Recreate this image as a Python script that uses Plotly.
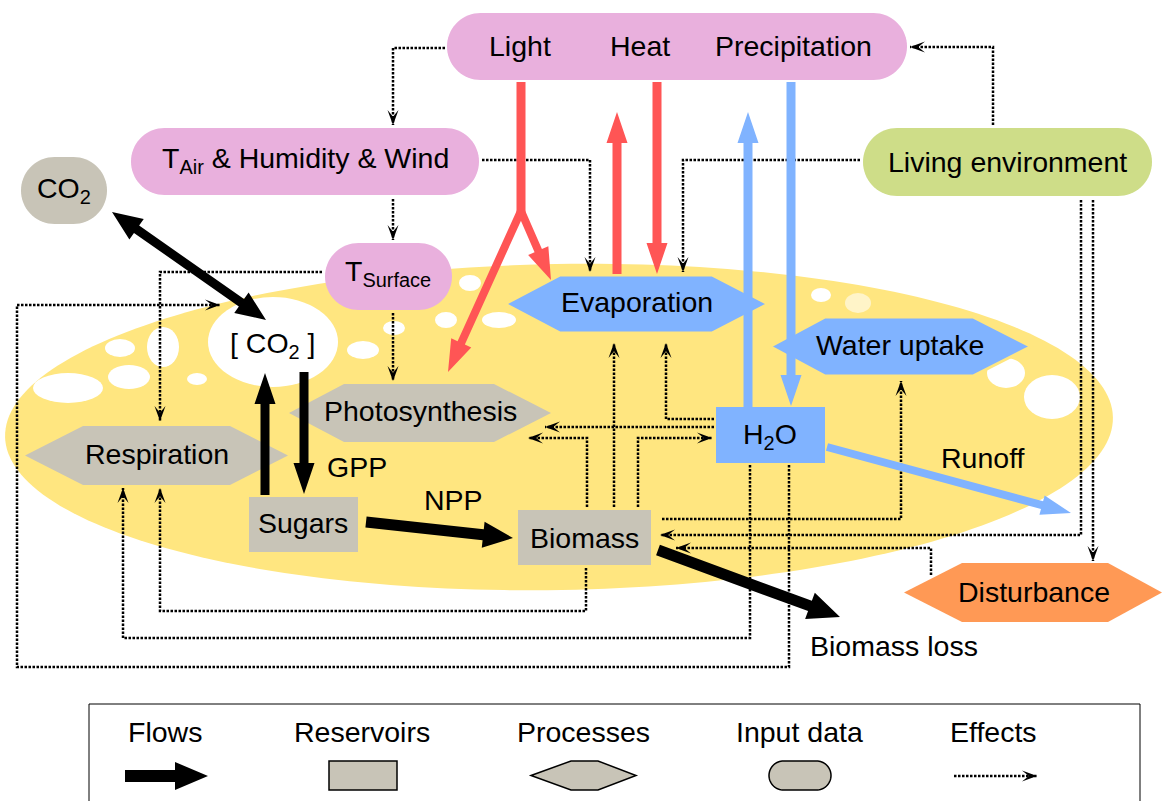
import numpy as np
import plotly.graph_objects as go

# ---------------- data: labels ----------------
top_inputs = ["Light", "Heat", "Precipitation"]
input_labels = ["T<sub>Air</sub> & Humidity & Wind", "CO<sub>2</sub>", "T<sub>Surface</sub>", "Living environment"]
process_labels = ["Evaporation", "Water uptake", "Photosynthesis", "Respiration", "Disturbance"]
reservoir_labels = ["[ CO<sub>2</sub> ]", "Sugars", "Biomass", "H<sub>2</sub>O"]
flow_labels = ["GPP", "NPP", "Runoff", "Biomass loss"]
legend_labels = ["Flows", "Reservoirs", "Processes", "Input data", "Effects"]

# ---------------- geometry / styles (pixels, y downwards) ----------------
W, H = 1163, 801
FONT = "Liberation Sans, Arial, Helvetica, sans-serif"
FS = 28.5
PINK, GRAY, GREEN = "#E9B0DD", "#C8C4B7", "#CEDD88"
BLUE, RED, ORANGE, YELLOW = "#80B3FF", "#FF5555", "#FF9955", "#FFE680"

top_box = (447, 13, 907, 80)
top_text_x = [520, 640, 793]
input_boxes = [(131, 128, 479, 195), (21, 157, 107, 224), (325, 243, 452, 310), (863, 128, 1152, 196)]
input_colors = [PINK, GRAY, PINK, GREEN]
input_text_pos = [(305, 160), (64, 190), (388, 273), (1007, 162)]

hexes = [(505, 560, 712, 768, 275, 333), (770, 825, 973, 1031, 317, 376),
         (289, 344, 494, 551, 384, 442), (25, 83, 230, 288, 426, 485),
         (904, 962, 1108, 1162, 563, 622)]
hex_colors = [BLUE, BLUE, GRAY, GRAY, ORANGE]
hex_text_pos = [(637, 302), (900, 345), (420, 411), (157, 454), (1034, 592)]

rects = [None, (249, 497, 358, 552), (518, 510, 651, 565), (716, 407, 825, 463)]
rect_colors = [None, GRAY, GRAY, BLUE]
res_text_pos = [(273, 345), (303, 523), (584, 538), (770, 436)]

flow_text_pos = [(357, 467), (453, 500), (983, 458), (894, 646)]
legend_text_x = [165, 362, 583, 799, 993]

ellipse = (559, 427, 554, 163, 1.0)   # cx, cy, rx, ry, tilt (deg)
holes = [(273, 342, 65, 45, "white"), (120, 348, 15, 9, "white"), (163, 347, 16, 20, "white"),
         (68, 388, 35, 15, "white"), (129, 377, 21, 12, "white"), (197, 379, 10, 6, "white"),
         (470, 283, 11, 8, "white"), (446, 320, 11, 8, "white"), (499, 320, 17, 8, "white"),
         (394, 328, 11, 7, "white"), (363, 350, 16, 9, "white"), (821, 295, 10, 7, "white"),
         (858, 303, 13, 10, "#FFF4C8"), (1006, 373, 19, 15, "white"), (1052, 397, 28, 22, "white")]

dotted_paths = [
    [(445, 48), (393, 48), (393, 125)],
    [(393, 199), (393, 240)],
    [(482, 160), (590, 160), (590, 272)],
    [(860, 160), (683, 160), (683, 272)],
    [(993, 125), (993, 47), (910, 47)],
    [(1081, 200), (1081, 535), (660, 535)],
    [(1093, 200), (1093, 561)],
    [(931, 575), (931, 548), (676, 548)],
    [(662, 519), (901, 519), (901, 381)],
    [(750, 465), (750, 638), (123, 638), (123, 488)],
    [(789, 465), (789, 667), (17, 667), (17, 305), (220, 305)],
    [(322, 272), (160, 272), (160, 421)],
    [(393, 313), (393, 381)],
    [(586, 568), (586, 611), (160, 611), (160, 488)],
    [(587, 507), (587, 438), (528, 438)],
    [(614, 507), (614, 343)],
    [(638, 507), (638, 438), (712, 438)],
    [(714, 427), (545, 427)],
    [(714, 419), (666, 419), (666, 343)],
]

# (start, end, shaft width, head length, head width, color, double)
thick_arrows = [
    ((521, 82), (521, 215), 9, 0, 0, RED, False),
    ((521, 211), (551, 280), 8, 32, 22, RED, False),
    ((521, 211), (448, 372), 8, 32, 22, RED, False),
    ((617, 274), (617, 112), 9, 31, 21, RED, False),
    ((657, 82), (657, 274), 9, 31, 21, RED, False),
    ((791, 82), (791, 406), 9, 31, 21, BLUE, False),
    ((748, 407), (748, 112), 9, 31, 21, BLUE, False),
    ((827, 447), (1071, 513), 8, 30, 20, BLUE, False),
    ((112, 212), (266, 320), 9, 30, 25, "black", True),
    ((304, 372), (304, 494), 9, 31, 21, "black", False),
    ((265, 495), (265, 373), 9, 31, 21, "black", False),
    ((366, 522), (513, 538), 11, 30, 26, "black", False),
    ((658, 550), (840, 617), 11, 32, 28, "black", False),
    ((125, 776), (208, 776), 12, 33, 28, "black", False),
]


def path_of(pts, close=True):
    s = "M " + " L ".join(f"{x:.2f},{y:.2f}" for x, y in pts)
    return s + (" Z" if close else "")


def pill_pts(x0, y0, x1, y1, r=None):
    if r is None:
        r = (y1 - y0) / 2
    pts = []
    for cx, cy, a0, a1 in [(x1 - r, y0 + r, -np.pi / 2, 0), (x1 - r, y1 - r, 0, np.pi / 2),
                           (x0 + r, y1 - r, np.pi / 2, np.pi), (x0 + r, y0 + r, np.pi, 1.5 * np.pi)]:
        for t in np.linspace(a0, a1, 18):
            pts.append((cx + r * np.cos(t), cy + r * np.sin(t)))
    return pts


def ellipse_pts(cx, cy, rx, ry, tilt):
    a = np.deg2rad(tilt)
    t = np.linspace(0, 2 * np.pi, 240, endpoint=False)
    ex, ey = rx * np.cos(t), ry * np.sin(t)
    xs = cx + ex * np.cos(a) + ey * np.sin(a)
    ys = cy - ex * np.sin(a) + ey * np.cos(a)
    return list(zip(xs, ys))


def hex_pts(xl, xcl, xcr, xr, yt, yb):
    cy = (yt + yb) / 2
    return [(xl, cy), (xcl, yt), (xcr, yt), (xr, cy), (xcr, yb), (xcl, yb)]


def arrow_pts(p0, p1, w, hl, hw, both):
    p0 = np.array(p0, float)
    p1 = np.array(p1, float)
    d = p1 - p0
    u = d / np.hypot(*d)
    n = np.array([-u[1], u[0]])
    if hl <= 0:
        return [tuple(p) for p in (p0 + n * w / 2, p1 + n * w / 2, p1 - n * w / 2, p0 - n * w / 2)]
    b1 = p1 - u * hl
    pts = []
    if both:
        b0 = p0 + u * hl
        pts += [p0, b0 + n * hw / 2, b0 + n * w / 2]
    else:
        b0 = p0
        pts += [p0 + n * w / 2]
    pts += [b1 + n * w / 2, b1 + n * hw / 2, p1, b1 - n * hw / 2, b1 - n * w / 2]
    if both:
        pts += [b0 - n * w / 2, b0 - n * hw / 2]
    else:
        pts += [p0 - n * w / 2]
    return [tuple(p) for p in pts]


def barb_pts(prev, tip, L=15, Wd=11):
    prev = np.array(prev, float)
    tip = np.array(tip, float)
    d = tip - prev
    u = d / np.hypot(*d)
    n = np.array([-u[1], u[0]])
    return [tuple(tip), tuple(tip - u * L + n * Wd / 2), tuple(tip - u * L * 0.55),
            tuple(tip - u * L - n * Wd / 2)]


fig = go.Figure()
shapes = []


def add_poly(pts, fill, lw=0, lc=None):
    shapes.append(dict(type="path", path=path_of(pts), xref="x", yref="y", fillcolor=fill,
                       line=dict(width=lw, color=lc if lc else fill), layer="above"))


# yellow ecosystem ellipse with holes
add_poly(ellipse_pts(*ellipse), YELLOW)
for cx, cy, rx, ry, c in holes:
    shapes.append(dict(type="circle", xref="x", yref="y", x0=cx - rx, x1=cx + rx, y0=cy - ry, y1=cy + ry,
                       fillcolor=c, line=dict(width=0)))

# input data pills
add_poly(pill_pts(*top_box), PINK)
for b, c in zip(input_boxes, input_colors):
    add_poly(pill_pts(*b), c)

# processes
for i, (h, c) in enumerate(zip(hexes, hex_colors)):
    if i in (0, 1):
        add_poly(hex_pts(*h), c, lw=3, lc=YELLOW)
    else:
        add_poly(hex_pts(*h), c)

# reservoirs
for r, c in zip(rects, rect_colors):
    if r is None:
        continue
    x0, y0, x1, y1 = r
    add_poly([(x0, y0), (x1, y0), (x1, y1), (x0, y1)], c)


# effects (dotted)
def add_dotted(pts):
    shapes.append(dict(type="path", xref="x", yref="y", path=path_of(pts, close=False),
                       line=dict(color="black", width=2.5, dash="2.5px,1.5px")))
    add_poly(barb_pts(pts[-2], pts[-1]), "black")


for p in dotted_paths:
    add_dotted(p)

# flows (thick arrows)
for p0, p1, w, hl, hw, c, both in thick_arrows:
    add_poly(arrow_pts(p0, p1, w, hl, hw, both), c)

# legend
shapes.append(dict(type="rect", xref="x", yref="y", x0=89, x1=1140, y0=704, y1=806,
                   fillcolor="white", line=dict(color="black", width=1), layer="below"))
add_poly([(329, 761), (397, 761), (397, 790), (329, 790)], GRAY, lw=1.5, lc="black")
add_poly(hex_pts(531, 571, 598, 636, 761, 790), GRAY, lw=1.5, lc="black")
add_poly(pill_pts(769, 761, 831, 790), GRAY, lw=1.5, lc="black")
add_dotted([(954, 776), (1037, 776)])

fig.update_layout(shapes=shapes)

ann = []


def txt(x, y, s, size=FS):
    ann.append(dict(x=x, y=y, xref="x", yref="y", text=s, showarrow=False,
                    xanchor="center", yanchor="middle", font=dict(family=FONT, size=size, color="black")))


for s, x in zip(top_inputs, top_text_x):
    txt(x, 46, s)
for s, (x, y) in zip(input_labels, input_text_pos):
    txt(x, y, s)
for s, (x, y) in zip(process_labels, hex_text_pos):
    txt(x, y, s)
for s, (x, y) in zip(reservoir_labels, res_text_pos):
    txt(x, y, s)
for s, (x, y) in zip(flow_labels, flow_text_pos):
    txt(x, y, s)
for s, x in zip(legend_labels, legend_text_x):
    txt(x, 732, s)

fig.update_layout(
    annotations=ann,
    width=W, height=H, autosize=False,
    margin=dict(l=0, r=0, t=0, b=0),
    paper_bgcolor="white", plot_bgcolor="white",
    xaxis=dict(range=[0, W], visible=False, fixedrange=True),
    yaxis=dict(range=[H, 0], visible=False, fixedrange=True),
    showlegend=False,
)

fig.write_html("out.html", config={"displayModeBar": False},
               post_script="document.body.style.margin='0';document.body.style.overflow='hidden';")
